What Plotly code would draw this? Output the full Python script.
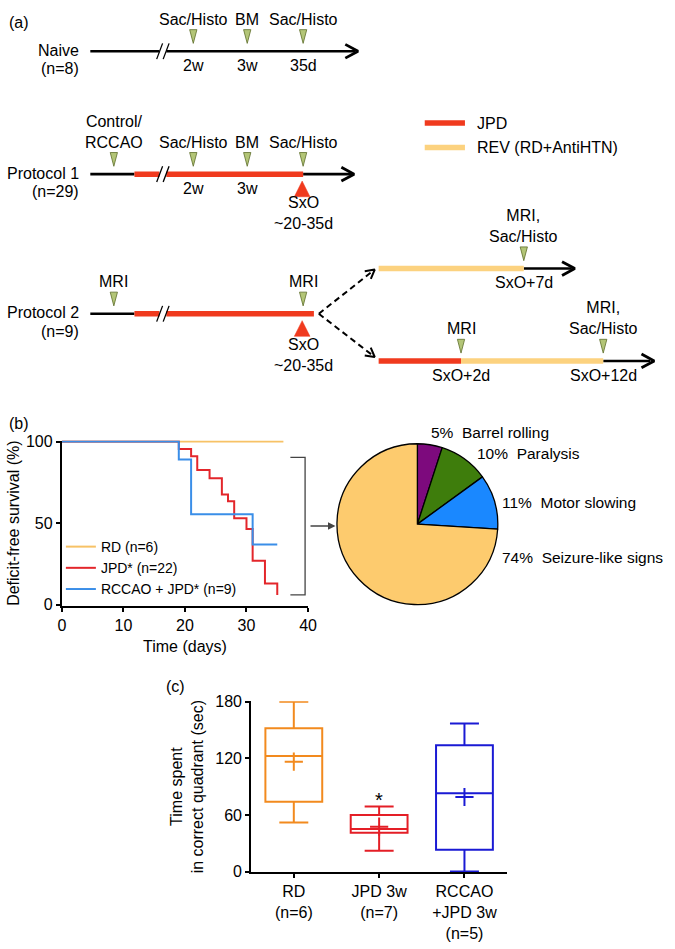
import math
import plotly.graph_objects as go

FONT = "Liberation Sans, Arial, Helvetica, sans-serif"

# ---------------- (b) deficit-free survival (Kaplan-Meier steps)
rd_days = [0, 36]
rd_surv = [100, 100]
jpd_days = [0, 19, 21, 22, 24, 26, 27, 28, 30, 31, 33, 35]
jpd_surv = [100, 95.5, 91, 82.5, 77.5, 67.5, 63.5, 53, 46.5, 27, 13, 6]
rccao_days = [0, 19, 21, 31, 35]
rccao_surv = [100, 89, 55.5, 37, 37]
surv_names = ["RD (n=6)", "JPD* (n=22)", "RCCAO + JPD* (n=9)"]

# type of deficit at onset (%)
deficit_types = ["Barrel rolling", "Paralysis", "Motor slowing", "Seizure-like signs"]
deficit_pct = [5, 10, 11, 74]

# ---------------- (c) time spent in correct quadrant (sec)
groups = ["RD<br>(n=6)", "JPD 3w<br>(n=7)", "RCCAO<br>+JPD 3w<br>(n=5)"]
q_min = [52, 22, 0]
q1 = [74, 41, 23]
q_med = [122.5, 45, 83]
q3 = [152, 60, 134]
q_max = [180, 69, 157]
q_mean = [116.5, 47.5, 79]

# ---------------- (a) protocol timelines (schematic, laid out on a pixel grid)
row_names = ["Naive", "Protocol 1", "Protocol 2"]
row_n = ["(n=8)", "(n=29)", "(n=9)"]
row_y = [44, 169, 311]

bar_y = [44, 169, 169, 169, 311, 311, 265, 265, 359, 359, 359]
bar_x0 = [88, 88, 133, 305, 88, 133, 382, 530, 382, 466, 611]
bar_x1 = [358, 133, 305, 354, 133, 316, 530, 579, 466, 611, 659]
bar_kind = ["none", "none", "JPD", "none", "none", "JPD", "REV", "none", "JPD", "REV", "none"]

arrow_tip_x = [361, 357, 582, 663]
arrow_tip_y = [44, 169, 265, 359]

break_x = 162
break_rows = [44, 169, 311]

ev_x = [193, 248, 305, 112, 193, 248, 305, 112, 305, 530, 466, 611]
ev_y = [44, 44, 44, 169, 169, 169, 169, 311, 311, 265, 359, 359]
ev_top = ["Sac/Histo", "BM", "Sac/Histo", "Control/<br>RCCAO", "Sac/Histo", "BM", "Sac/Histo",
          "MRI", "MRI", "MRI,<br>Sac/Histo", "MRI", "MRI,<br>Sac/Histo"]
ev_bottom = ["2w", "3w", "35d", "", "2w", "3w", "", "", "", "SxO+7d", "SxO+2d", "SxO+12d"]

sxo_x = [304, 304]
sxo_y = [169, 311]
sxo_text_y = [209, 353]

split_from = (321, 311)
split_to_x = [378, 378]
split_to_y = [266, 355]

KIND_COL = {"none": "black", "JPD": "#f03a1e", "REV": "#fcd27f"}
GREEN, GREEN_EDGE = "#b3c577", "#5d6d2a"


def chevron(tx, ty, dx, dy, length=13, half=7):
    n = math.hypot(dx, dy)
    ux, uy = dx / n, dy / n
    px_, py_ = -uy, ux
    bx, by = tx - length * ux, ty - length * uy
    return [bx + half * px_, tx, bx - half * px_, None], [by + half * py_, ty, by - half * py_, None]


fig = go.Figure()
pix = dict(xaxis="x3", yaxis="y3", showlegend=False, hoverinfo="skip")

# timeline bars (black base first, treatments on top)
for kind in ["none", "JPD", "REV"]:
    xs, ys = [], []
    for y, a, b, k in zip(bar_y, bar_x0, bar_x1, bar_kind):
        if k == kind:
            xs += [a, b, None]
            ys += [y, y, None]
    fig.add_trace(go.Scatter(x=xs, y=ys, mode="lines",
                             line=dict(color=KIND_COL[kind], width=2.6 if kind == "none" else 5.5), **pix))

# axis breaks "//"
bx, by, sx, sy = [], [], [], []
for y in break_rows:
    bx += [break_x - 3.5, break_x + 3.5, None]
    by += [y, y, None]
    for off in (-3.3, 3.3):
        sx += [break_x + off - 3, break_x + off + 3, None]
        sy += [y + 8, y - 8, None]
fig.add_trace(go.Scatter(x=bx, y=by, mode="lines", line=dict(color="white", width=9), **pix))
fig.add_trace(go.Scatter(x=sx, y=sy, mode="lines", line=dict(color="black", width=1.3), **pix))

# arrow heads
hx, hy = [], []
for tx, ty in zip(arrow_tip_x, arrow_tip_y):
    cx, cy = chevron(tx, ty, 1, 0, 13, 7)
    hx += cx
    hy += cy
fig.add_trace(go.Scatter(x=hx, y=hy, mode="lines", line=dict(color="black", width=2.8), **pix))

# dashed split arrows
dx_, dy_ = [], []
hx, hy = [], []
for ex, ey in zip(split_to_x, split_to_y):
    dx_ += [split_from[0], ex, None]
    dy_ += [split_from[1], ey, None]
    cx, cy = chevron(ex, ey, ex - split_from[0], ey - split_from[1], 9, 5)
    hx += cx
    hy += cy
fig.add_trace(go.Scatter(x=dx_, y=dy_, mode="lines", line=dict(color="black", width=2, dash="6px,4px"), **pix))
fig.add_trace(go.Scatter(x=hx, y=hy, mode="lines", line=dict(color="black", width=2), **pix))

# green event triangles
tx, ty = [], []
for x, y in zip(ev_x, ev_y):
    tx += [x - 3.7, x + 3.7, x, x - 3.7, None]
    ty += [y - 22, y - 22, y - 8, y - 22, None]
fig.add_trace(go.Scatter(x=tx, y=ty, mode="lines", fill="toself", fillcolor=GREEN,
                         line=dict(color=GREEN_EDGE, width=0.8), **pix))

# red SxO triangles
tx, ty = [], []
for x, y in zip(sxo_x, sxo_y):
    tx += [x - 8, x + 8, x, x - 8, None]
    ty += [y + 23, y + 23, y + 7, y + 23, None]
fig.add_trace(go.Scatter(x=tx, y=ty, mode="lines", fill="toself", fillcolor="#f03a1e",
                         line=dict(color="#f03a1e", width=0.5), **pix))

# legend of treatments (panel a)
leg_y = [117, 142]
for kind, yy in zip(["JPD", "REV"], leg_y):
    fig.add_trace(go.Scatter(x=[429, 470], y=[yy, yy], mode="lines",
                             line=dict(color=KIND_COL[kind], width=5.5), **pix))

# bracket from survival curves to pie
fig.add_trace(go.Scatter(x=[292, 307, 307, 292], y=[457, 457, 597, 597], mode="lines",
                         line=dict(color="#444444", width=1.3), **pix))

# ---------------- survival curves
surv_cols = ["#f7c266", "#e3262b", "#3a8ee8"]
for days, surv, name, col in zip([rd_days, jpd_days, rccao_days], [rd_surv, jpd_surv, rccao_surv],
                                 surv_names, surv_cols):
    fig.add_trace(go.Scatter(x=days, y=surv, mode="lines", name=name, line_shape="hv",
                             line=dict(color=col, width=2), xaxis="x", yaxis="y"))

# ---------------- pie
fig.add_trace(go.Pie(values=deficit_pct, labels=deficit_types, sort=False, direction="clockwise",
                     rotation=0, textinfo="none", showlegend=False,
                     marker=dict(colors=["#7d0a7d", "#3e7d0c", "#1a88ff", "#fdcb6e"],
                                 line=dict(color="black", width=1.3)),
                     domain=dict(x=[339.5 / 675, 503.5 / 675], y=[1 - 607 / 949, 1 - 443 / 949])))

# ---------------- box plot
box_cols = ["#f28a1e", "#e41e26", "#1a1ad4"]
for i, g in enumerate(groups):
    fig.add_trace(go.Box(x=[g], q1=[q1[i]], median=[q_med[i]], q3=[q3[i]],
                         lowerfence=[q_min[i]], upperfence=[q_max[i]],
                         line=dict(color=box_cols[i], width=2), fillcolor="rgba(0,0,0,0)",
                         width=0.666, whiskerwidth=0.51, boxpoints=False, showlegend=False,
                         xaxis="x2", yaxis="y2"))
fig.add_trace(go.Scatter(x=groups, y=q_mean, mode="markers", showlegend=False,
                         marker=dict(symbol="cross-thin", size=13,
                                     line=dict(color=box_cols, width=2)),
                         xaxis="x2", yaxis="y2"))

# ---------------- text
ann = []


def txt(x, y, t, xa="center", ya="middle", size=16):
    ann.append(dict(x=x, y=y, xref="x3", yref="y3", text=t, showarrow=False,
                    xanchor=xa, yanchor=ya, font=dict(size=size, color="black", family=FONT)))


txt(3, 15, "(a)", xa="left")
for name, n, y in zip(row_names, row_n, row_y):
    txt(78, y - 1, name, xa="right")
    txt(78, y + 18, n, xa="right")
for x, y, t, b in zip(ev_x, ev_y, ev_top, ev_bottom):
    txt(x, y - 22, t, ya="bottom")
    if b:
        txt(x, y + 4, b, ya="top")
for x, y in zip(sxo_x, sxo_text_y):
    txt(x + 1, y, "SxO<br>~20-35d")
txt(480, leg_y[0], "JPD", xa="left")
txt(480, leg_y[1], "REV (RD+AntiHTN)", xa="left")
txt(3, 423, "(b)", xa="left")
txt(163, 690, "(c)", xa="left")
pie_lbl_x = [433, 480, 506, 506]
pie_lbl_y = [432, 453, 503, 559]
for p, lab, x, y in zip(deficit_pct, deficit_types, pie_lbl_x, pie_lbl_y):
    txt(x, y, f"{p}%&nbsp;&nbsp;{lab}", xa="left", size=15.5)

ann.append(dict(x=338, y=527, ax=311, ay=527, xref="x3", yref="y3", axref="x3", ayref="y3",
                text="", showarrow=True, arrowhead=2, arrowsize=1, arrowwidth=1.5, arrowcolor="#444444"))
ann.append(dict(x=groups[1], y=76, xref="x2", yref="y2", text="*", showarrow=False,
                font=dict(size=20, color="black", family=FONT)))

axis_common = dict(showline=True, linecolor="black", linewidth=2, ticks="outside", ticklen=4,
                   tickwidth=2, tickcolor="black", showgrid=False, zeroline=False,
                   tickfont=dict(size=16, color="black", family=FONT))

fig.update_layout(
    width=675, height=949, margin=dict(l=0, r=0, t=0, b=0),
    paper_bgcolor="white", plot_bgcolor="rgba(0,0,0,0)",
    font=dict(family=FONT, size=16, color="black"),
    boxmode="overlay",
    xaxis=dict(domain=[59 / 675, 310 / 675], range=[0, 40], dtick=10, anchor="y",
               title=dict(text="Time (days)", standoff=8, font=dict(size=16)), **axis_common),
    # small pad above 100 so the top step lines are not clipped
    yaxis=dict(domain=[1 - 608 / 949, 1 - 440 / 949], range=[-0.6, 100.6], tickvals=[0, 50, 100], anchor="x",
               title=dict(text="Deficit-free survival (%)", standoff=2, font=dict(size=16)), **axis_common),
    xaxis2=dict(domain=[252 / 675, 513 / 675], range=[-0.5, 2.5], anchor="y2", layer="below traces",
                **axis_common),
    yaxis2=dict(domain=[1 - 878.9 / 949, 1 - 705.1 / 949], range=[-0.6, 180.6], tickvals=[0, 60, 120, 180],
                anchor="x2", layer="below traces",
                title=dict(text="Time spent<br>in correct quadrant (sec)", standoff=8, font=dict(size=16)),
                **axis_common),
    xaxis3=dict(domain=[0, 1], range=[0, 675], visible=False, anchor="y3", fixedrange=True),
    yaxis3=dict(domain=[0, 1], range=[949, 0], visible=False, anchor="x3", fixedrange=True),
    legend=dict(x=58 / 675, y=1 - 532 / 949, xanchor="left", yanchor="top", bgcolor="rgba(0,0,0,0)",
                font=dict(size=14, family=FONT, color="black"), itemwidth=30),
    annotations=ann,
)

# page margin off so the 675x949 figure fills the window exactly
fig.write_html("out.html", config={"displayModeBar": False},
               post_script="document.body.style.margin='0px';")
